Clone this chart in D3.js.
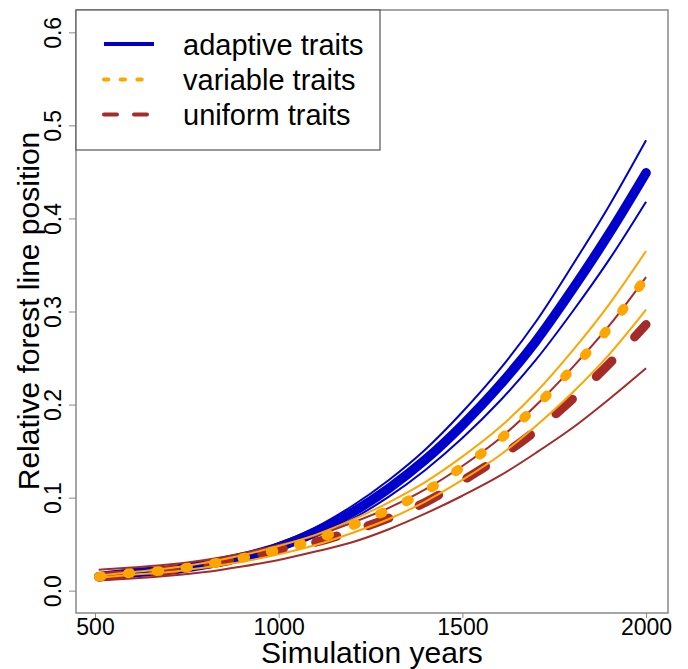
<!DOCTYPE html>
<meta charset="utf-8">
<style>
    body { margin: 0; background: #fff; }
    text { font-family: "Liberation Sans", Arial, sans-serif; fill: #000; }
</style>
<body>
<svg width="688" height="669"></svg>
<script src="https://d3js.org/d3.v7.min.js"></script>
<script>
var years = [510, 600, 700, 800, 900, 1000, 1100, 1200, 1300, 1400, 1500, 1600, 1700, 1800, 1900, 2000];

var adaptiveMean  = [0.015, 0.019, 0.022, 0.028, 0.036, 0.047, 0.063, 0.084, 0.110, 0.141, 0.178, 0.220, 0.268, 0.324, 0.384, 0.449];
var adaptiveUpper = [0.016, 0.020, 0.024, 0.030, 0.039, 0.051, 0.068, 0.091, 0.119, 0.152, 0.192, 0.237, 0.289, 0.350, 0.414, 0.484];
var adaptiveLower = [0.014, 0.0175, 0.020, 0.026, 0.033, 0.043, 0.058, 0.077, 0.101, 0.130, 0.164, 0.203, 0.248, 0.300, 0.356, 0.418];

var variableMean  = [0.015, 0.019, 0.022, 0.028, 0.035, 0.044, 0.055, 0.070, 0.087, 0.107, 0.133, 0.162, 0.198, 0.239, 0.283, 0.337];
var variableUpper = [0.016, 0.020, 0.024, 0.030, 0.038, 0.048, 0.060, 0.076, 0.095, 0.117, 0.144, 0.175, 0.213, 0.258, 0.308, 0.365];
var variableLower = [0.014, 0.017, 0.020, 0.025, 0.031, 0.039, 0.049, 0.062, 0.077, 0.096, 0.119, 0.145, 0.177, 0.213, 0.254, 0.302];

var uniformMean  = [0.015, 0.018, 0.022, 0.028, 0.035, 0.044, 0.052, 0.064, 0.078, 0.095, 0.118, 0.143, 0.172, 0.206, 0.244, 0.286];
var uniformUpper = [0.0225, 0.025, 0.028, 0.033, 0.040, 0.049, 0.059, 0.073, 0.089, 0.109, 0.134, 0.163, 0.199, 0.240, 0.285, 0.337];
var uniformLower = [0.011, 0.013, 0.016, 0.020, 0.026, 0.033, 0.042, 0.052, 0.066, 0.083, 0.102, 0.123, 0.148, 0.175, 0.206, 0.239];

var xTicks = [500, 1000, 1500, 2000];
var yTicks = [0.0, 0.1, 0.2, 0.3, 0.4, 0.5, 0.6];

var legendLabels = ["adaptive traits", "variable traits", "uniform traits"];

var svg = d3.select("svg");

var x = d3.scaleLinear().domain([448.3, 2059.7]).range([76, 668]);
var y = d3.scaleLinear().domain([-0.024, 0.624]).range([613, 10]);

var line = d3.line()
    .x(function(d) { return x(d[0]); })
    .y(function(d) { return y(d[1]); })
    .curve(d3.curveMonotoneX);

function pairs(vals) {
    return years.map(function(t, i) { return [t, vals[i]]; });
}

var plot = svg.append("g");

function drawSeries(color, mean, upper, lower, width, dash) {
    [upper, lower].forEach(function(v) {
        plot.append("path")
            .attr("d", line(pairs(v)))
            .attr("fill", "none")
            .attr("stroke", color)
            .attr("stroke-width", 2);
    });
    plot.append("path")
        .attr("d", line(pairs(mean)))
        .attr("fill", "none")
        .attr("stroke", color)
        .attr("stroke-width", width)
        .attr("stroke-linecap", "round")
        .attr("stroke-dasharray", dash);
}

drawSeries("#0000CD", adaptiveMean, adaptiveUpper, adaptiveLower, 9.5, null);
drawSeries("#A52A2A", uniformMean, uniformUpper, uniformLower, 9, "22,33");
drawSeries("#FFA500", variableMean, variableUpper, variableLower, 9.5, "3,26");

// box
svg.append("rect")
    .attr("x", 76).attr("y", 10)
    .attr("width", 592).attr("height", 603)
    .attr("fill", "none")
    .attr("stroke", "#888")
    .attr("stroke-width", 1.5);

// x axis
var xAxis = svg.append("g")
    .attr("transform", "translate(0,613)")
    .call(d3.axisBottom(x).tickValues(xTicks).tickSize(5).tickSizeOuter(0).tickFormat(d3.format("d")));
xAxis.select(".domain").remove();
xAxis.selectAll("line").attr("stroke", "#888");
xAxis.selectAll("text")
    .attr("y", 4)
    .attr("dy", "0.78em")
    .style("font-size", "23px")
    .style("font-family", "Liberation Sans, Arial, sans-serif");

// y axis
var yAxis = svg.append("g")
    .attr("transform", "translate(76,0)")
    .call(d3.axisLeft(y).tickValues(yTicks).tickSize(7).tickSizeOuter(0).tickFormat(d3.format(".1f")));
yAxis.select(".domain").remove();
yAxis.selectAll("line").attr("stroke", "#888");
yAxis.selectAll("text")
    .attr("x", 0).attr("dy", null)
    .attr("text-anchor", "middle")
    .attr("transform", "translate(-15,0) rotate(-90)")
    .style("font-size", "23px")
    .style("font-family", "Liberation Sans, Arial, sans-serif");

svg.append("text")
    .attr("x", 372).attr("y", 663)
    .attr("text-anchor", "middle")
    .style("font-size", "30px")
    .text("Simulation years");

svg.append("text")
    .attr("transform", "translate(39,311) rotate(-90)")
    .attr("text-anchor", "middle")
    .style("font-size", "30px")
    .text("Relative forest line position");

// legend
var legend = svg.append("g");
legend.append("rect")
    .attr("x", 76).attr("y", 10)
    .attr("width", 304).attr("height", 140)
    .attr("fill", "#fff")
    .attr("stroke", "#555")
    .attr("stroke-width", 1.2);

var legendColors = ["#0000CD", "#FFA500", "#A52A2A"];
var legendDash = [null, "4.3,12.4", "13,17"];
var legendY = [44, 79.5, 114.5];

legendLabels.forEach(function(label, i) {
    legend.append("line")
        .attr("x1", 104).attr("x2", 154)
        .attr("y1", legendY[i]).attr("y2", legendY[i])
        .attr("stroke", legendColors[i])
        .attr("stroke-width", 4)
        .attr("stroke-linecap", i == 0 ? "butt" : "round")
        .attr("stroke-dasharray", legendDash[i]);
    legend.append("text")
        .attr("x", 183).attr("y", legendY[i] + 10.5)
        .style("font-size", "29px")
        .text(label);
});
</script>
</body>
